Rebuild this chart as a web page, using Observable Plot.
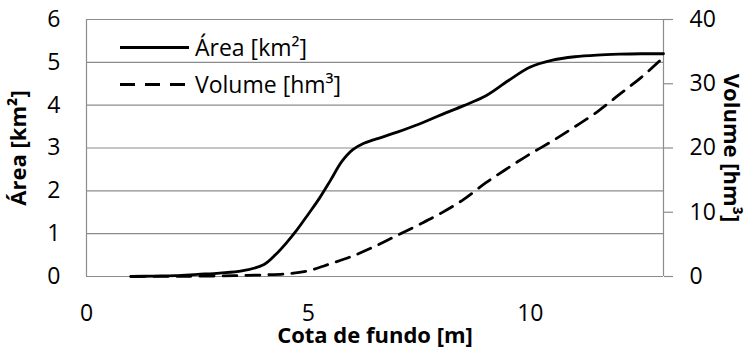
<!DOCTYPE html>
<html>
<head>
<meta charset="utf-8">
<script src="https://cdn.jsdelivr.net/npm/d3@7"></script>
<script src="https://cdn.jsdelivr.net/npm/@observablehq/plot@0.6"></script>
<style>
  html, body { margin: 0; padding: 0; background: #fff; }
  #wrap { position: relative; width: 747px; height: 349px; }
  #legend { position: absolute; left: 0; top: 0; pointer-events: none; }
  svg text { font-family: "Open Sans", Lato, sans-serif; }
</style>
</head>
<body>
<div id="wrap"></div>
<script>
// ---- data ----
const areaCota = [1, 1.5, 2, 2.5, 3, 3.5, 4, 4.25, 4.5, 4.75, 5, 5.25, 5.5, 5.75, 6, 6.25, 6.5, 7, 7.5, 8, 8.5, 9, 9.5, 10, 10.5, 11, 11.5, 12, 12.5, 13];
const areaKm2  = [0, 0.01, 0.02, 0.05, 0.08, 0.13, 0.28, 0.5, 0.78, 1.1, 1.46, 1.83, 2.25, 2.68, 2.96, 3.11, 3.2, 3.37, 3.56, 3.78, 3.99, 4.22, 4.57, 4.89, 5.05, 5.13, 5.17, 5.19, 5.2, 5.2];
const volCota  = [1, 2, 3, 3.5, 4, 4.5, 5, 5.5, 6, 6.5, 7, 7.5, 8, 8.5, 9, 9.5, 10, 10.5, 11, 11.5, 12, 12.5, 13];
const volHm3   = [0, 0.02, 0.08, 0.15, 0.25, 0.4, 0.9, 2.0, 3.2, 4.7, 6.4, 8.1, 9.9, 12.0, 14.6, 16.9, 19.1, 21.1, 23.3, 25.6, 28.3, 31.0, 34.1];
const xDomain = [0, 13];
const xTicks = [0, 5, 10];
const yLeftTicks = [0, 1, 2, 3, 4, 5, 6];
const yRightTicks = [0, 10, 20, 30, 40];
const yLeftMax = 6, yRightMax = 40;
const seriesNames = ["Área [km²]", "Volume [hm³]"];
const xTitle = "Cota de fundo [m]";
const yLeftTitle = "Área [km²]";
const yRightTitle = "Volume [hm³]";

const areaData = areaCota.map((x, i) => ({x, y: areaKm2[i]}));
const volData = volCota.map((x, i) => ({x, y: volHm3[i]}));
const k = yLeftMax / yRightMax;

const grid = "#8c8c8c";
const fs = 23;
const tfs = 22;

const chart = Plot.plot({
  width: 747,
  height: 349,
  marginLeft: 86,
  marginRight: 84,
  marginTop: 19,
  marginBottom: 73,
  style: { fontFamily: "'Open Sans', Lato, sans-serif", fontSize: fs + "px", color: "#000", background: "#fff" },
  x: { domain: xDomain },
  y: { domain: [0, yLeftMax] },
  marks: [
    Plot.ruleY(yLeftTicks, { stroke: grid, strokeWidth: 1.2 }),
    Plot.ruleX(xDomain, { stroke: grid, strokeWidth: 1.2 }),
    Plot.axisX({ ticks: xTicks, tickSize: 0, tickPadding: 28, tickFormat: d => String(d), label: null, fontSize: fs }),
    Plot.axisY({ ticks: yLeftTicks, tickSize: 0, tickPadding: 26, tickFormat: d => String(d), label: null, fontSize: fs }),
    Plot.axisY(yRightTicks, { y: d => d * k, text: d => String(d), anchor: "right", tickSize: 9, tickPadding: 17, stroke: grid, strokeWidth: 1.2, label: null, fontSize: fs }),
    Plot.line(volData, { x: "x", y: d => d.y * k, curve: "catmull-rom", stroke: "#000", strokeWidth: 2.8, strokeDasharray: "14,9" }),
    Plot.line(areaData, { x: "x", y: "y", curve: "catmull-rom", stroke: "#000", strokeWidth: 2.8 }),
    Plot.text([xTitle], { text: d => d, frameAnchor: "bottom", dy: 59, lineAnchor: "middle", textAnchor: "middle", fontWeight: "bold", fontSize: tfs }),
    Plot.text([yLeftTitle], { text: d => d, frameAnchor: "left", dx: -68, rotate: -90, textAnchor: "middle", lineAnchor: "middle", fontWeight: "bold", fontSize: tfs }),
    Plot.text([yRightTitle], { text: d => d, frameAnchor: "right", dx: 68, rotate: 90, textAnchor: "middle", lineAnchor: "middle", fontWeight: "bold", fontSize: tfs })
  ]
});

const wrap = document.getElementById("wrap");
wrap.appendChild(chart);

// legend overlay
const ns = "http://www.w3.org/2000/svg";
const leg = document.createElementNS(ns, "svg");
leg.setAttribute("id", "legend");
leg.setAttribute("width", 747);
leg.setAttribute("height", 349);
const items = [
  { y: 47.5, x1: 120, x2: 189, tx: 195, dash: null },
  { y: 84.5, x1: 120, x2: 186, tx: 195, dash: "15,10" }
];
items.forEach((it, i) => {
  const l = document.createElementNS(ns, "line");
  l.setAttribute("x1", it.x1); l.setAttribute("x2", it.x2);
  l.setAttribute("y1", it.y); l.setAttribute("y2", it.y);
  l.setAttribute("stroke", "#000"); l.setAttribute("stroke-width", 2.8);
  if (it.dash) l.setAttribute("stroke-dasharray", it.dash);
  leg.appendChild(l);
  const t = document.createElementNS(ns, "text");
  t.setAttribute("x", it.tx); t.setAttribute("y", it.y);
  t.setAttribute("dy", "0.35em");
  t.setAttribute("font-size", fs);
  t.setAttribute("fill", "#000");
  t.textContent = seriesNames[i];
  leg.appendChild(t);
});
wrap.appendChild(leg);
</script>
</body>
</html>
